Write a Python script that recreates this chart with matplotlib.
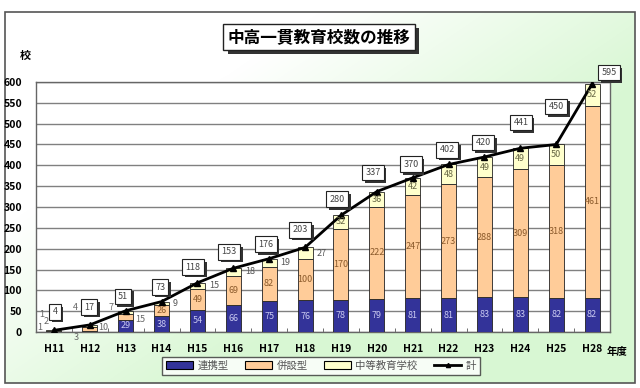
import numpy as np
import matplotlib
matplotlib.use("Agg")
import matplotlib.pyplot as plt
import matplotlib.patheffects as pe
from matplotlib.patches import Rectangle, Patch
from matplotlib.lines import Line2D

plt.rcParams['font.family'] = ['Noto Sans CJK JP', 'DejaVu Sans']

# ---------------- data ----------------
years = ["H11", "H12", "H13", "H14", "H15", "H16", "H17", "H18",
         "H19", "H20", "H21", "H22", "H23", "H24", "H25", "H28"]
renkei = [1, 3, 29, 38, 54, 66, 75, 76, 78, 79, 81, 81, 83, 83, 82, 82]
heisetsu = [2, 10, 15, 26, 49, 69, 82, 100, 170, 222, 247, 273, 288, 309, 318, 461]
chuto = [1, 4, 7, 9, 15, 18, 19, 27, 32, 36, 42, 48, 49, 49, 50, 52]
total = [4, 17, 51, 73, 118, 153, 176, 203, 280, 337, 370, 402, 420, 441, 450, 595]
series_names = ["連携型", "併設型", "中等教育学校", "計"]
title = "中高一貫教育校数の推移"

# ---------------- layout / style ----------------
W, H = 640, 388
fig = plt.figure(figsize=(W / 100, H / 100), dpi=100)

# background gradient inside a frame
bg = fig.add_axes([0, 0, 1, 1], zorder=-10)
bg.set_xlim(0, W)
bg.set_ylim(H, 0)
bg.axis("off")
yy, xx = np.mgrid[0:H, 0:W]
t = np.clip(1.5 * xx / W + 1.3 * yy / H - 0.75, 0, 1)
green = np.array([0.85, 0.97, 0.83])
img = 1 - t[..., None] * (1 - green)[None, None, :]
bg.imshow(img, extent=[5, 635, 383, 12], aspect="auto", zorder=0)
bg.add_patch(Rectangle((5, 12), 630, 371, fill=False, ec="#555555", lw=1.2, zorder=1))

ax = fig.add_axes([36 / W, 1 - 332 / H, 574 / W, 250 / H])
ax.set_facecolor("white")
x = np.arange(len(years))
bw = 0.42
c1, c2, c3 = "#333399", "#FFCC99", "#FFFFCC"
ax.bar(x, renkei, bw, color=c1, ec="#222222", lw=0.6, zorder=3)
ax.bar(x, heisetsu, bw, bottom=renkei, color=c2, ec="#222222", lw=0.6, zorder=3)
b2 = np.array(renkei) + np.array(heisetsu)
ax.bar(x, chuto, bw, bottom=b2, color=c3, ec="#222222", lw=0.6, zorder=3)
ax.plot(x, total, color="black", lw=2, marker="^", ms=4, zorder=5)

ax.set_xlim(-0.5, len(years) - 0.5)
ax.set_ylim(0, 600)
ax.set_yticks(np.arange(0, 601, 50))
ax.yaxis.grid(True, color="#808080", lw=1)
ax.set_axisbelow(True)
ax.set_xticks(x)
ax.set_xticklabels(years, fontsize=7.5, fontweight="bold")
ax.set_xticks(np.arange(-0.5, len(years), 1), minor=True)
ax.tick_params(axis="x", which="major", length=0, pad=9)
ax.tick_params(axis="x", which="minor", length=3, direction="in", color="#555555")
ax.tick_params(axis="y", length=0, labelsize=7.5, pad=10)
for lab in ax.get_yticklabels():
    lab.set_fontweight("bold")
for s in ax.spines.values():
    s.set_color("#666666")
    s.set_linewidth(1)

# segment labels
lc1, lc2, lc3 = "#C8C8F0", "#8B5A2B", "#666644"
for i in range(len(years)):
    if i >= 2:
        ax.text(x[i], renkei[i] / 2, str(renkei[i]), ha="center", va="center",
                fontsize=6.5, color=lc1, zorder=6)
    if i >= 3:
        ax.text(x[i], renkei[i] + heisetsu[i] / 2, str(heisetsu[i]), ha="center",
                va="center", fontsize=6.5, color=lc2, zorder=6)
    if i >= 8:
        ax.text(x[i], b2[i] + chuto[i] / 2, str(chuto[i]), ha="center",
                va="center", fontsize=6.5, color=lc3, zorder=6)
    elif 3 <= i <= 7:
        ax.text(x[i] + 0.32, b2[i] + chuto[i] / 2, str(chuto[i]), ha="left",
                va="center", fontsize=6.5, color="#555555", zorder=6)

# small-value labels for the first bars (placed around the bars)
small = [(-0.39, 10, renkei[0]), (-0.22, 24, heisetsu[0]), (-0.33, 43, chuto[0]),
         (0.61, -14, renkei[1]), (1.37, 12, heisetsu[1]), (0.59, 60, chuto[1]),
         (2.4, 31, heisetsu[2]), (1.6, 60, chuto[2])]
for sx, sy, v in small:
    ax.text(sx, sy, str(v), ha="center", va="center", fontsize=6.5,
            color="#666666", zorder=6, clip_on=False)

# total boxes with shadow
shadow = [pe.withSimplePatchShadow(offset=(2, -2), shadow_rgbFace="#333333", alpha=1)]
box_dx = [0.03, -0.02, -0.08, -0.04, -0.12, -0.12, -0.09, -0.14, -0.11, -0.11,
          -0.05, -0.04, -0.04, 0.02, 0.0, 0.47]
box_dy = [44, 43, 35, 35, 38, 39, 35, 42, 39, 45, 33, 35, 34, 61, 92, 27]
for i in range(len(years)):
    bx, by = x[i] + box_dx[i], total[i] + box_dy[i]
    tt = ax.annotate(str(total[i]), (bx, by), ha="center", va="center", fontsize=6.5,
                     color="#444444",
                     bbox=dict(boxstyle="square,pad=0.35", fc="white", ec="#222222", lw=0.8),
                     zorder=8, annotation_clip=False)
    tt.get_bbox_patch().set_path_effects(shadow)

# title with shadow box
tl = fig.text(319 / W, 1 - 37 / H, title, ha="center", va="center", fontsize=12,
              fontweight="bold", fontstyle="italic", color="black",
              bbox=dict(boxstyle="square,pad=0.25", fc="white", ec="#222222", lw=1))
tl.get_bbox_patch().set_path_effects(
    [pe.withSimplePatchShadow(offset=(3, -3), shadow_rgbFace="#333333", alpha=1)])

fig.text(25 / W, 1 - 55 / H, "校", ha="center", va="center", fontsize=8, fontweight="bold")
fig.text(617 / W, 1 - 352 / H, "年度", ha="center", va="center", fontsize=7.5, fontweight="bold")

handles = [Patch(fc=c1, ec="black", lw=0.8), Patch(fc=c2, ec="black", lw=0.8),
           Patch(fc=c3, ec="black", lw=0.8),
           Line2D([], [], color="black", lw=2, marker="^", ms=3)]
leg = fig.legend(handles, series_names, loc="center", bbox_to_anchor=(321 / W, 1 - 366 / H),
                 ncol=4, fontsize=7.5, frameon=True, fancybox=False, edgecolor="#333333",
                 handlelength=2.6, handleheight=0.8, columnspacing=1.6, borderpad=0.35,
                 handletextpad=0.4, labelcolor="#555555")
leg.get_frame().set_linewidth(1)
leg.get_frame().set_facecolor("white")

fig.savefig("out.png", dpi=100)
